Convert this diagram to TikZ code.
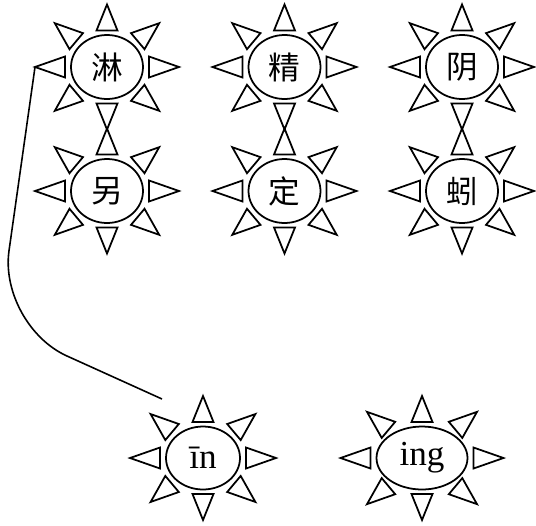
\documentclass[tikz,border=0pt]{standalone}
\usepackage{fontspec}
\setmainfont{Liberation Serif}
\newfontfamily\cjk{Noto Sans CJK SC}
\usetikzlibrary{calc,shapes.geometric}
\tikzset{
	sun/.style={ellipse, draw, line width=1pt, inner sep=0pt, outer sep=0pt,
		minimum width=1.44cm, minimum height=1.28cm},
	ray/.style={line width=1pt, line join=miter},
	link/.style={line width=0.9pt},
	hz/.style={font=\cjk\fontsize{18}{20}\selectfont},
	py/.style={font=\fontsize{20}{22}\selectfont}
}
% eight triangles around a sun node: angle/gap/length
\def\sunrays#1{\foreach \a/\g/\l in {0/6/30, 40/6/28, 90/4.5/26, 140/6/28, 180/6/30, 220/6/28, 270/4.5/26, 320/6/28}
	{\draw[ray] ($(#1.\a)+(\a:\g)+(\a+90:10.5)$) -- ($(#1.\a)+(\a:\g+\l)$) -- ($(#1.\a)+(\a:\g)+(\a-90:10.5)$) -- cycle;}}
\begin{document}
\begin{tikzpicture}[x=0.02cm, y=0.02cm]
			%%%%% START %%%%%
			\useasboundingbox (0, 0) rectangle (536, 525);
			
			\node[sun, hz] (lin2) at (107, 458) {淋};
			\node[sun, hz] (jing1) at (284.5, 458) {精};
			\node[sun, hz] (yin1) at (462, 458) {阴};
			
			\node[sun, hz] (ling4) at (107, 334) {另};
			\node[sun, hz] (ding4) at (284.5, 334) {定};
			\node[sun, hz] (yin3) at (462, 334) {蚓};
			
			\node[sun, py, minimum width=1.48cm, minimum height=1.26cm] (in) at (203, 67) {īn};
			\node[sun, py, minimum width=1.82cm, minimum height=1.26cm] (ing) at (422, 67) {ing};
			
			\sunrays{lin2} \sunrays{jing1} \sunrays{yin1}
			\sunrays{ling4} \sunrays{ding4} \sunrays{yin3}
			\sunrays{in} \sunrays{ing}
			
			\coordinate (lin2tip) at ($(lin2.180)+(-36, 0)$);
			\coordinate (bend) at (-1.5, 200);
			\coordinate (linkend) at (162, 126);
			\draw[link, rounded corners=1.5cm] (lin2tip) -- (bend) -- (linkend);
			%%%%% END %%%%%
\end{tikzpicture}
\end{document}
